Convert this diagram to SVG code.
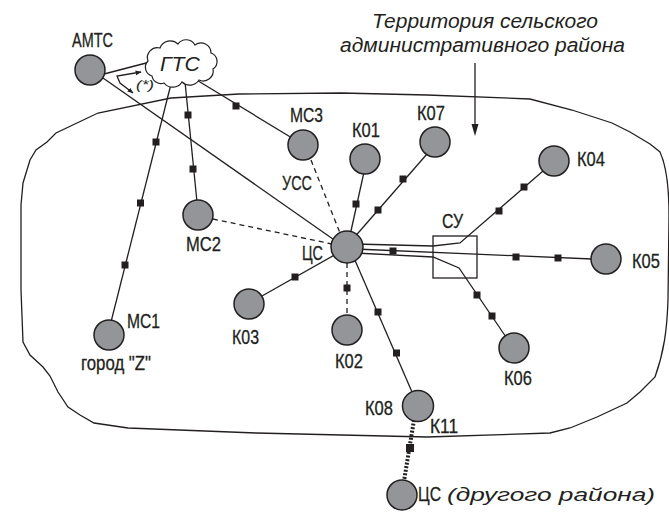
<svg xmlns="http://www.w3.org/2000/svg" width="669" height="513" viewBox="0 0 669 513">
<defs>
<style>
.ln{fill:none;stroke:#231f20;stroke-width:1.3}
.dash{fill:none;stroke:#231f20;stroke-width:1.3;stroke-dasharray:5,4}
.dot{fill:none;stroke:#231f20;stroke-width:4;stroke-dasharray:2,1.6}
.sq{fill:#231f20}
.nd{fill:#939598;stroke:#231f20;stroke-width:1.5}
.lb{font-family:"Liberation Sans",Arial,sans-serif;font-size:19.5px;fill:#231f20;stroke:#231f20;stroke-width:0.3}
.it{font-family:"Liberation Sans",Arial,sans-serif;font-style:italic;fill:#231f20}
</style>
<marker id="sa" viewBox="0 0 10 10" refX="9" refY="5" markerWidth="6" markerHeight="6" orient="auto-start-reverse" markerUnits="userSpaceOnUse">
<path d="M0,1 L10,5 L0,9 z" fill="#231f20"/>
</marker>
</defs>
<rect width="669" height="513" fill="#ffffff"/>

<g id="territory">
<path class="ln" d="M21,290 L21,205 L23,183 L30,160 L36,150 L47,142 L56,133 L98,113 L171,98 L239,94 L341,93 L427,95 L530,99 L572,110 L612,123 L630,132 L650,144 L660,152 C666,165 669,185 669,215 L668,300 C667,330 664,352 655,377 L640,392 L627,403 L597,417 L570,428 L550,433 L427,437 L256,433 L128,428 L94,423 L80,415 L68,407 L58,392 L50,376 L43,367 L30,355 L23,342 Z"/>
</g>

<g id="connectors">
<line class="ln" x1="104" y1="74" x2="150" y2="62"/>
<line class="ln" x1="103" y1="78" x2="340" y2="244"/>
<line class="ln" x1="172" y1="80" x2="111" y2="322"/>
<rect class="sq" x="152.5" y="138.5" width="7" height="7"/>
<rect class="sq" x="137" y="199.5" width="7" height="7"/>
<rect class="sq" x="121.5" y="261.5" width="7" height="7"/>
<line class="ln" x1="185" y1="82" x2="197" y2="202"/>
<rect class="sq" x="184.5" y="111.5" width="7" height="7"/>
<rect class="sq" x="189.5" y="165.5" width="7" height="7"/>
<line class="ln" x1="195" y1="79" x2="292" y2="138"/>
<rect class="sq" x="232.5" y="102.5" width="7" height="7"/>
<line class="dash" x1="311" y1="160" x2="340" y2="233"/>
<line class="dash" x1="213" y1="219" x2="332" y2="244"/>
<line class="ln" x1="349" y1="240" x2="364" y2="172"/>
<rect class="sq" x="352.5" y="200.5" width="7" height="7"/>
<line class="ln" x1="352" y1="240" x2="427" y2="154"/>
<rect class="sq" x="374.5" y="206.5" width="7" height="7"/>
<rect class="sq" x="399.5" y="175.5" width="7" height="7"/>
<polyline class="ln" points="355,244 433,246 460,243 543,171"/>
<rect class="sq" x="495.5" y="207.5" width="7" height="7"/>
<rect class="sq" x="520.5" y="183.5" width="7" height="7"/>
<line class="ln" x1="355" y1="249" x2="592" y2="259"/>
<rect class="sq" x="389.5" y="247.5" width="7" height="7"/>
<rect class="sq" x="512.5" y="253.5" width="7" height="7"/>
<rect class="sq" x="554.5" y="254.5" width="7" height="7"/>
<polyline class="ln" points="355,253 433,257 459,268 506,337"/>
<rect class="sq" x="473.5" y="291.5" width="7" height="7"/>
<rect class="sq" x="488.5" y="312.5" width="7" height="7"/>
<line class="ln" x1="338" y1="253" x2="262" y2="296"/>
<rect class="sq" x="291.5" y="273.5" width="7" height="7"/>
<line class="dash" x1="347" y1="263" x2="347" y2="316"/>
<rect class="sq" x="343.5" y="284.5" width="7" height="7"/>
<line class="ln" x1="354" y1="258" x2="412" y2="392"/>
<rect class="sq" x="374.5" y="308.5" width="7" height="7"/>
<rect class="sq" x="393" y="349.5" width="7" height="7"/>
<line class="dot" x1="414" y1="420" x2="404" y2="481"/>
<rect class="sq" x="406" y="444" width="8" height="8"/>
<polyline class="ln" points="141,72 117,76 120,83 133,93" marker-start="url(#sa)" marker-end="url(#sa)" stroke-width="1"/>
<line class="ln" x1="475" y1="63" x2="475" y2="126"/>
<polygon points="471.5,124 478.5,124 475,136" fill="#231f20"/>
</g>

<g id="su">
<rect x="433" y="236" width="44" height="42" fill="none" stroke="#231f20" stroke-width="1.3"/>
<text class="lb" x="442" y="228" textLength="21" lengthAdjust="spacingAndGlyphs">СУ</text>
</g>

<g id="gts">
<path d="M152,76 a9,9 0 0 1 -4,-15 a10,10 0 0 1 12,-13 a11,11 0 0 1 18,-4 a10,10 0 0 1 17,1 a10,10 0 0 1 16,8 a9,9 0 0 1 2,16 a10,10 0 0 1 -14,11 a11,11 0 0 1 -17,2 a11,11 0 0 1 -18,1 a9,9 0 0 1 -12,-7 z" fill="#ffffff" stroke="#231f20" stroke-width="1.2"/>
<text class="it" x="160" y="71" font-size="20" textLength="40" lengthAdjust="spacingAndGlyphs">ГТС</text>
<text class="it" x="136" y="89" font-size="12" font-style="normal" textLength="18" lengthAdjust="spacingAndGlyphs">(*)</text>
</g>

<g id="amts">
<circle class="nd" cx="90" cy="70" r="15"/>
<text class="lb" x="72" y="47" textLength="41" lengthAdjust="spacingAndGlyphs">АМТС</text>
</g>
<g id="mc3">
<circle class="nd" cx="303" cy="145" r="15"/>
<text class="lb" x="290" y="122" textLength="33" lengthAdjust="spacingAndGlyphs">МС3</text>
<text class="lb" x="282" y="190" textLength="30" lengthAdjust="spacingAndGlyphs">УСС</text>
</g>
<g id="k01">
<circle class="nd" cx="365" cy="159" r="15"/>
<text class="lb" x="352" y="137" textLength="28" lengthAdjust="spacingAndGlyphs">К01</text>
</g>
<g id="k07">
<circle class="nd" cx="435" cy="142" r="15"/>
<text class="lb" x="417" y="120" textLength="28" lengthAdjust="spacingAndGlyphs">К07</text>
</g>
<g id="k04">
<circle class="nd" cx="554" cy="161" r="15"/>
<text class="lb" x="577" y="166" textLength="28" lengthAdjust="spacingAndGlyphs">К04</text>
</g>
<g id="mc2">
<circle class="nd" cx="198" cy="215" r="15"/>
<text class="lb" x="186" y="251" textLength="35" lengthAdjust="spacingAndGlyphs">МС2</text>
</g>
<g id="cs">
<circle class="nd" cx="347" cy="247" r="16"/>
<text class="lb" x="302" y="260" textLength="21" lengthAdjust="spacingAndGlyphs">ЦС</text>
</g>
<g id="k05">
<circle class="nd" cx="606" cy="259" r="15"/>
<text class="lb" x="632" y="268" textLength="28" lengthAdjust="spacingAndGlyphs">К05</text>
</g>
<g id="k03">
<circle class="nd" cx="249" cy="304" r="15"/>
<text class="lb" x="232" y="344" textLength="27" lengthAdjust="spacingAndGlyphs">К03</text>
</g>
<g id="k02">
<circle class="nd" cx="347" cy="330" r="15"/>
<text class="lb" x="335" y="368" textLength="28" lengthAdjust="spacingAndGlyphs">К02</text>
</g>
<g id="k06">
<circle class="nd" cx="514" cy="348" r="15"/>
<text class="lb" x="504" y="385" textLength="28" lengthAdjust="spacingAndGlyphs">К06</text>
</g>
<g id="mc1">
<circle class="nd" cx="109" cy="335" r="15"/>
<text class="lb" x="127" y="328" textLength="33" lengthAdjust="spacingAndGlyphs">МС1</text>
<text class="lb" x="81" y="370" textLength="70" lengthAdjust="spacingAndGlyphs">город "Z"</text>
</g>
<g id="k08">
<circle class="nd" cx="418" cy="406" r="15.5"/>
<text class="lb" x="365" y="415" textLength="28" lengthAdjust="spacingAndGlyphs">К08</text>
<text class="lb" x="430" y="433" textLength="28" lengthAdjust="spacingAndGlyphs">К11</text>
</g>
<g id="cs-other">
<circle class="nd" cx="402" cy="495" r="15"/>
<text class="lb" x="418" y="501" textLength="23" lengthAdjust="spacingAndGlyphs">ЦС</text>
<text class="it" x="447" y="501" font-size="19" textLength="208" lengthAdjust="spacingAndGlyphs">(другого района)</text>
</g>
<g id="title">
<text class="it" x="372" y="28" font-size="20.5" textLength="226" lengthAdjust="spacingAndGlyphs">Территория сельского</text>
<text class="it" x="340" y="52" font-size="20.5" textLength="285" lengthAdjust="spacingAndGlyphs">административного района</text>
</g>
</svg>
